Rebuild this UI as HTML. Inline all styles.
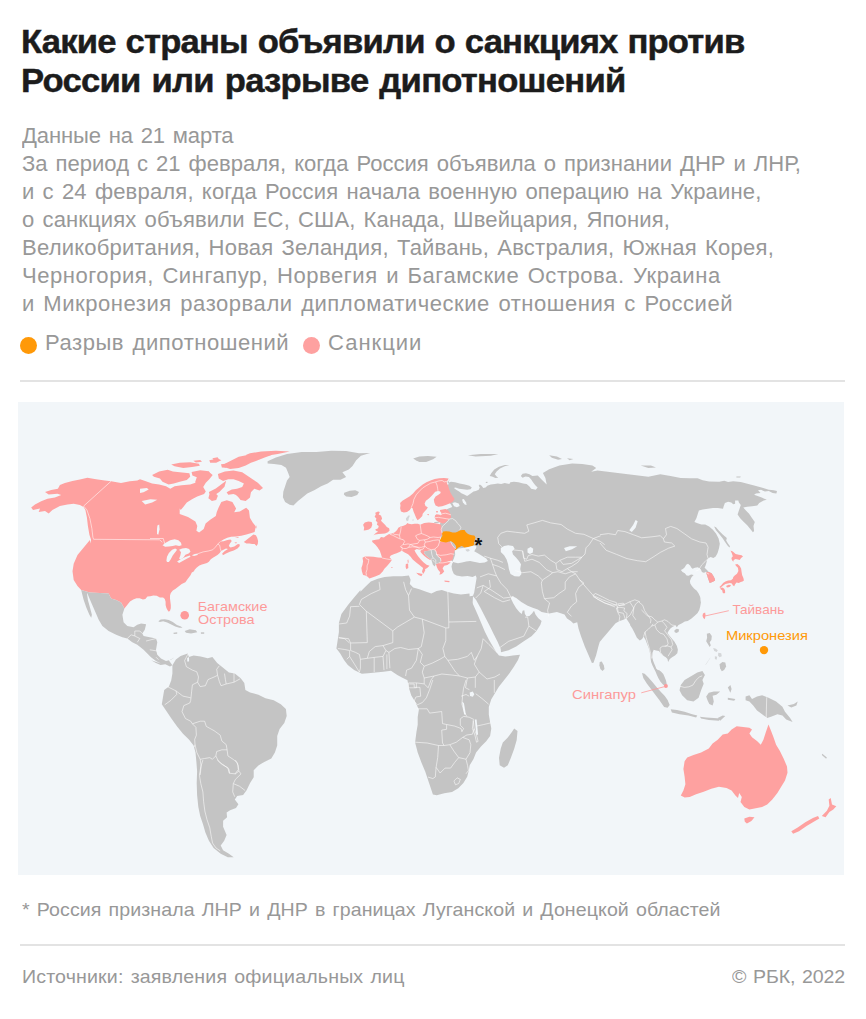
<!DOCTYPE html>
<html lang="ru">
<head>
<meta charset="utf-8">
<title>Какие страны объявили о санкциях против России или разрыве дипотношений</title>
<style>
html,body{margin:0;padding:0;background:#fff;}
body{width:866px;height:1019px;position:relative;overflow:hidden;font-family:"Liberation Sans",sans-serif;}
.t{position:absolute;white-space:nowrap;transform-origin:0 0;line-height:1;}
.dot{position:absolute;width:17px;height:17px;border-radius:50%;}
.rule{position:absolute;left:20px;width:825px;height:1.6px;background:#e3e3e3;}
#map{position:absolute;left:18px;top:402px;width:826px;height:473px;background:#f2f6f9;display:block;}
#map text{font-family:"Liberation Sans",sans-serif;}
</style>
</head>
<body>
<div class="t" style="left:21px;top:25.07px;font-size:33px;letter-spacing:-0.777px;word-spacing:1.0px;color:#1c1c1c;transform:scaleX(1.05);font-weight:bold;-webkit-text-stroke:0.45px #1c1c1c;">Какие страны объявили о санкциях против</div>
<div class="t" style="left:21px;top:63.97px;font-size:33px;letter-spacing:-0.726px;word-spacing:2.0px;color:#1c1c1c;transform:scaleX(1.05);font-weight:bold;-webkit-text-stroke:0.45px #1c1c1c;">России или разрыве дипотношений</div>
<div class="t" style="left:22px;top:125.68px;font-size:21.4px;letter-spacing:-0.120px;word-spacing:1.8px;color:#989898;transform:scaleX(1.03);">Данные на 21 марта</div>
<div class="t" style="left:22px;top:153.68px;font-size:21.4px;letter-spacing:0.012px;word-spacing:1.8px;color:#989898;transform:scaleX(1.03);">За период с 21 февраля, когда Россия объявила о признании ДНР и ЛНР,</div>
<div class="t" style="left:22px;top:181.68px;font-size:21.4px;letter-spacing:0.158px;word-spacing:1.8px;color:#989898;transform:scaleX(1.03);">и с 24 февраля, когда Россия начала военную операцию на Украине,</div>
<div class="t" style="left:22px;top:209.68px;font-size:21.4px;letter-spacing:0.128px;word-spacing:1.8px;color:#989898;transform:scaleX(1.03);">о санкциях объявили ЕС, США, Канада, Швейцария, Япония,</div>
<div class="t" style="left:22px;top:237.68px;font-size:21.4px;letter-spacing:0.200px;word-spacing:1.8px;color:#989898;transform:scaleX(1.03);">Великобритания, Новая Зеландия, Тайвань, Австралия, Южная Корея,</div>
<div class="t" style="left:22px;top:265.68px;font-size:21.4px;letter-spacing:0.518px;word-spacing:1.8px;color:#989898;transform:scaleX(1.03);">Черногория, Сингапур, Норвегия и Багамские Острова. Украина</div>
<div class="t" style="left:22px;top:293.68px;font-size:21.4px;letter-spacing:0.520px;word-spacing:1.8px;color:#989898;transform:scaleX(1.03);">и Микронезия разорвали дипломатические отношения с Россией</div>
<div class="t" style="left:45px;top:332.98px;font-size:21.4px;letter-spacing:0.524px;word-spacing:1.8px;color:#989898;transform:scaleX(1.03);">Разрыв дипотношений</div>
<div class="t" style="left:328.3px;top:332.98px;font-size:21.4px;letter-spacing:0.963px;word-spacing:1.8px;color:#989898;transform:scaleX(1.03);">Санкции</div>
<div class="t" style="left:22px;top:899.72px;font-size:19px;letter-spacing:0.085px;word-spacing:1.5px;color:#989898;transform:scaleX(1.03);">* Россия признала ЛНР и ДНР в границах Луганской и Донецкой областей</div>
<div class="t" style="left:22px;top:966.82px;font-size:19px;letter-spacing:0.157px;word-spacing:1.5px;color:#989898;transform:scaleX(1.03);">Источники: заявления официальных лиц</div>
<div class="t" style="left:731.5px;top:966.82px;font-size:19px;letter-spacing:-0.147px;word-spacing:1.5px;color:#989898;transform:scaleX(1.03);">© РБК, 2022</div>
<div class="dot" style="left:19.7px;top:336.5px;background:#ff9908"></div>
<div class="dot" style="left:303px;top:336.5px;background:#fea1a0"></div>
<div class="rule" style="top:380.2px"></div>
<div class="rule" style="top:944px"></div>
<svg id="map" viewBox="18 402 826 473" width="826" height="473">
<polygon fill="#c4c4c4" points="447.0,489.6 449.6,478.9 447.5,482.9 451.0,481.7 455.0,482.3 459.6,483.5 464.8,484.6 469.4,485.8 471.8,487.5 470.6,489.2 467.1,489.8 463.1,489.2 459.1,488.7 455.6,487.5 453.9,488.1 456.2,489.8 459.1,491.6 461.4,493.3 464.2,494.4 467.1,495.9 468.3,495.3 470.0,493.9 471.8,492.7 473.5,491.6 475.8,491.0 478.7,489.8 479.8,487.5 478.7,485.8 479.8,484.6 481.6,485.8 483.3,488.1 485.6,487.5 487.3,485.8 490.8,484.6 494.8,484.1 497.7,483.5 501.2,484.1 504.7,482.9 509.3,484.1 510.4,482.3 513.9,481.7 518.5,482.3 523.1,483.5 526.6,484.1 529.5,486.4 531.2,488.7 535.8,489.8 537.6,487.5 535.3,485.2 533.0,482.3 531.2,479.4 528.9,477.1 525.5,476.5 522.6,477.7 520.8,476.0 522.6,473.7 526.0,473.3 529.5,474.2 532.4,476.0 537.8,475.6 541.6,479.4 546.7,484.5 545.4,478.1 542.9,473.0 549.2,469.2 559.4,465.4 572.1,463.4 582.3,464.1 592.4,465.4 596.2,467.9 591.2,471.8 597.5,470.5 607.7,471.8 617.8,473.0 628.0,474.3 638.2,475.6 648.3,476.8 660.3,474.3 670.5,476.1 680.7,478.1 690.0,478.3 697.6,478.3 702.7,480.2 709.1,481.4 719.2,481.7 724.3,480.8 728.1,482.1 733.2,481.2 740.8,482.1 748.4,484.0 756.0,485.9 762.4,487.8 768.8,489.7 773.8,490.3 777.0,491.0 776.4,493.5 772.6,492.9 768.8,491.0 764.9,491.6 761.1,489.7 758.0,490.3 760.5,492.9 756.0,493.5 754.1,494.8 761.1,497.3 766.8,499.8 763.7,500.5 759.2,503.0 757.3,505.6 752.2,506.2 747.2,506.8 743.3,507.5 745.9,510.6 749.1,513.8 751.6,517.6 754.8,522.1 753.5,525.9 754.1,531.0 752.9,532.2 750.3,529.1 747.2,525.3 743.3,521.4 740.2,518.3 737.6,514.5 738.9,510.6 740.2,506.8 740.8,504.9 738.9,502.4 738.3,500.5 735.1,500.5 735.1,503.7 733.2,504.3 731.3,502.4 728.1,501.8 724.9,503.0 723.7,506.2 723.0,508.7 717.9,508.1 712.9,508.1 707.8,508.7 702.7,509.4 698.9,510.6 697.6,514.5 696.4,518.3 694.4,522.1 697.6,523.3 701.4,524.6 705.2,524.6 709.1,526.5 712.9,529.7 716.0,533.5 718.6,538.6 719.8,543.7 719.0,548.3 717.6,552.9 715.7,556.6 713.4,558.0 710.6,557.1 708.8,558.0 707.0,559.9 706.5,562.6 705.6,565.4 704.6,567.7 706.5,569.6 707.9,570.9 708.8,571.9 711.6,573.3 713.4,576.0 714.8,578.8 715.1,580.6 713.4,581.6 711.1,582.5 709.7,583.0 708.8,580.6 707.9,577.9 707.0,575.1 706.2,573.3 705.6,572.3 703.7,572.8 701.9,571.9 700.9,569.6 699.6,568.2 697.7,567.3 694.9,567.7 692.6,568.8 691.4,567.7 690.1,565.4 688.0,563.8 686.2,564.8 684.8,567.3 682.9,569.1 680.9,570.0 682.5,571.9 684.8,573.3 686.6,575.6 688.5,575.8 691.1,574.6 693.6,574.9 691.7,577.0 690.8,578.8 689.9,581.1 690.3,583.4 691.7,585.7 694.0,588.5 696.8,590.8 698.6,593.6 700.0,596.4 700.9,600.0 700.2,598.3 700.9,602.5 700.2,606.6 699.3,610.0 697.6,612.9 694.7,615.8 691.2,618.7 687.7,621.0 684.8,621.5 682.0,623.3 678.5,625.0 676.8,627.3 675.6,625.6 672.7,626.7 670.4,628.5 668.7,630.8 667.5,633.1 669.3,635.4 671.6,638.3 674.5,641.8 676.8,645.8 677.9,649.8 677.3,653.3 675.0,655.6 672.1,657.3 669.8,659.1 668.1,662.0 667.5,659.1 665.8,657.3 662.9,655.6 660.6,653.3 658.9,651.0 656.0,650.4 653.7,649.8 652.5,652.7 652.2,657.3 653.1,660.8 654.5,664.3 656.0,667.7 657.1,669.5 658.9,670.0 661.2,671.8 663.3,674.1 664.6,677.0 666.0,680.4 666.7,683.9 665.6,686.4 662.9,684.5 660.3,681.6 658.3,678.1 656.8,674.7 655.6,671.8 654.2,668.9 652.5,665.4 651.1,662.0 650.6,658.5 650.2,653.9 649.1,649.3 647.3,644.6 645.6,640.0 643.6,636.6 642.1,638.9 639.8,640.6 636.9,637.7 634.6,633.1 632.3,628.5 630.0,625.0 630.2,624.6 628.1,621.2 626.3,618.4 623.3,619.8 619.1,621.2 615.6,623.3 611.5,628.1 607.3,633.0 603.2,637.8 599.7,642.0 598.3,646.8 596.2,655.1 593.5,662.7 591.9,662.9 588.6,655.3 584.8,646.4 581.0,636.2 578.5,628.6 577.2,622.2 573.4,623.5 570.8,621.0 567.0,618.4 564.5,614.6 556.9,612.1 549.2,613.4 541.6,612.1 537.8,609.5 532.7,607.8 527.7,605.7 521.3,601.9 516.2,598.1 512.4,596.3 510.9,598.6 513.2,603.2 516.2,608.3 519.3,612.1 521.8,613.9 522.6,610.8 524.3,610.3 524.9,613.9 526.6,616.4 529.4,615.9 532.0,613.4 534.0,610.8 535.5,614.6 538.1,617.9 541.6,621.0 540.4,624.8 536.5,631.1 531.5,636.2 523.8,641.3 516.2,646.4 508.6,650.2 501.0,652.2 500.7,648.9 497.7,642.1 493.9,634.4 489.5,625.5 485.0,616.7 480.4,607.8 476.1,600.1 473.0,596.3 472.5,605.4 470.1,600.5 468.5,596.5 473.0,595.7 474.2,592.4 475.0,587.6 475.8,582.7 476.6,577.9 475.8,575.5 472.5,577.1 467.7,576.0 462.0,576.6 456.4,575.5 453.9,573.9 452.3,570.6 451.5,566.6 452.3,563.3 453.1,562.1 451.5,560.4 447.5,558.5 447.5,550.4 436.6,529.5 441.8,520.8 444.4,512.2 447.3,509.0 452.2,507.0 451.3,504.9 448.7,501.8"/>
<polygon fill="#c4c4c4" points="360.4,591.8 365.6,586.6 370.8,581.4 377.7,578.8 384.6,577.1 393.3,576.2 402.0,576.2 408.9,575.4 410.6,579.7 409.8,584.0 413.2,587.5 419.3,589.2 426.2,591.8 431.4,593.6 436.6,591.0 441.8,590.1 447.0,591.8 453.9,593.6 460.9,594.4 469.5,593.6 469.7,597.6 473.5,605.2 477.4,614.1 481.2,623.0 485.0,631.9 488.8,639.5 492.6,645.9 496.4,652.2 499.0,655.5 505.3,656.6 512.9,655.5 520.0,654.8 518.0,659.9 514.2,666.2 509.1,673.8 504.0,680.2 499.0,686.5 495.1,692.9 491.3,699.2 488.8,706.9 488.8,714.5 490.1,722.1 491.3,728.5 490.1,736.1 486.2,741.2 481.2,746.2 476.1,752.6 473.5,759.0 469.7,765.3 468.5,771.7 467.2,776.7 463.4,783.1 458.3,788.2 452.0,792.0 444.3,793.3 436.7,795.3 432.9,794.5 430.4,786.9 427.8,779.3 425.3,771.7 421.5,762.8 417.7,752.6 415.1,742.4 416.4,732.3 417.7,724.7 417.7,717.0 418.9,709.4 415.1,701.8 411.3,695.4 408.8,687.8 407.5,680.2 402.4,677.7 397.3,675.1 391.0,670.8 383.4,671.8 375.7,672.6 368.1,673.3 361.8,673.8 354.1,670.0 347.8,664.9 344.0,659.9 340.2,653.5 336.4,648.4 337.6,640.8 338.9,631.9 338.9,623.0 341.4,614.1 347.8,605.2 354.1,597.6 360.5,590.0"/>
<polygon fill="#fea1a0" points="111.1,481.2 121.0,482.9 129.8,481.2 137.3,480.5 140.0,479.2 145.2,481.0 152.1,483.6 159.1,484.4 166.0,486.2 170.3,488.8 174.6,486.2 181.6,485.3 190.2,484.4 195.4,482.7 199.8,479.2 197.2,476.7 197.2,474.1 204.1,471.5 209.3,472.3 212.7,474.9 209.3,479.2 205.8,482.7 203.2,487.0 205.8,491.4 204.1,494.0 197.2,496.6 192.0,499.2 186.8,502.6 183.3,507.0 180.7,510.1 179.7,508.6 179.7,514.1 188.0,516.9 195.4,521.5 197.3,526.1 196.4,530.8 199.1,532.6 203.7,528.9 205.6,523.4 210.2,519.7 215.8,516.0 216.7,512.3 218.5,507.7 221.3,502.1 226.8,500.3 232.4,502.1 236.1,508.6 234.2,512.3 239.8,511.4 246.2,507.7 249.0,510.4 249.9,517.8 252.7,522.4 255.5,526.1 256.4,528.9 256.5,525.0 255.3,528.8 254.6,532.0 251.5,532.9 246.4,534.5 241.3,535.8 236.2,536.4 231.1,536.7 227.3,537.7 223.5,539.6 220.3,541.5 223.5,541.3 227.3,539.9 230.5,539.4 231.8,540.9 229.9,543.4 228.8,546.0 230.5,547.6 234.3,546.6 237.5,544.3 239.4,544.1 239.8,546.0 237.5,548.5 233.7,550.4 229.9,551.7 226.0,553.6 222.9,555.2 222.2,553.6 224.8,551.0 228.0,549.1 226.0,548.5 223.5,549.8 221.0,551.0 219.7,552.9 217.8,554.8 215.9,556.1 213.3,557.4 210.8,559.3 208.9,561.8 207.0,563.1 204.5,563.7 201.9,564.4 199.4,565.6 196.8,567.6 194.9,569.5 193.7,571.4 191.8,572.6 190.5,575.2 189.2,577.1 187.3,579.6 185.4,582.2 181.7,584.0 178.5,586.5 175.3,588.9 172.8,590.5 170.8,592.9 170.0,595.4 170.0,598.6 170.4,601.8 170.8,605.1 170.8,608.3 170.0,610.7 168.8,611.7 167.6,610.3 166.4,607.9 165.6,605.1 165.6,601.8 164.8,599.0 163.1,597.4 159.9,597.4 156.7,595.8 153.4,595.4 150.2,596.2 147.4,596.6 145.4,599.0 142.9,599.4 139.7,598.2 136.5,598.2 133.2,599.4 130.0,601.4 124.4,608.6 121.1,602.4 116.1,599.9 111.1,598.6 108.6,593.6 99.9,592.9 89.9,592.4 81.2,589.9 77.5,586.1 73.7,579.9 72.5,571.2 73.7,563.7 77.5,555.0 83.7,547.5 89.9,540.0 90.4,543.6 91.1,539.8 89.4,534.8 87.9,526.1 86.9,517.4 85.4,509.9 83.6,506.9 79.9,504.9 73.7,503.7 67.4,504.4 59.9,506.1 52.4,509.9 48.7,513.6 45.0,511.1 38.7,511.9 40.0,508.6 33.0,509.9 31.2,507.4 35.0,504.4 41.2,501.2 47.5,498.7 54.9,497.4 61.2,494.9 57.4,493.7 48.7,494.4 45.0,491.9 51.2,489.9 57.9,488.7 59.9,484.9 64.9,482.9 72.4,481.0 79.9,479.5 87.4,477.7 96.1,479.2 104.8,480.5"/>
<polygon fill="#fea1a0" points="152.1,474.9 159.1,471.5 167.7,469.7 172.9,471.5 179.8,472.3 189.4,473.2 190.2,476.7 186.8,480.1 179.8,481.8 173.8,483.6 168.6,484.4 162.5,481.8 159.9,478.4 153.9,476.7"/>
<polygon fill="#fea1a0" points="171.2,464.5 179.8,462.8 190.2,462.3 198.9,463.7 199.8,465.7 192.0,467.1 183.3,468.0 174.6,466.3"/>
<polygon fill="#fea1a0" points="209.3,460.2 217.9,458.5 221.4,460.2 216.2,462.8 210.2,462.8"/>
<polygon fill="#fea1a0" points="224.9,463.7 231.8,460.2 238.7,456.7 247.4,455.0 271.6,455.0 264.7,457.6 257.8,460.2 250.9,462.8 245.7,465.4 238.7,468.0 230.1,468.9 224.0,467.1"/>
<polygon fill="#fea1a0" points="217.9,474.1 224.9,471.5 233.5,470.6 242.2,472.3 247.4,475.8 252.6,479.2 257.8,482.7 263.0,487.9 259.5,490.5 254.3,488.8 250.9,492.2 250.0,497.4 245.7,500.9 240.5,500.0 237.9,495.7 233.5,494.0 228.3,494.8 226.6,492.2 231.8,489.6 237.0,488.8 242.2,487.0 243.9,483.6 238.7,481.0 233.5,479.2 228.3,479.2 223.1,481.0 218.8,478.4"/>
<polygon fill="#fea1a0" points="209.3,494.8 214.5,492.2 217.9,495.7 216.2,500.0 211.9,500.9 208.4,498.3"/>
<polygon fill="#fea1a0" points="243.8,542.1 247.0,539.6 250.2,537.1 253.4,534.5 255.9,535.2 257.2,537.7 258.1,540.9 257.8,544.1 256.5,546.0 254.6,544.1 252.1,544.1 249.5,543.4 246.4,543.4"/>
<polygon fill="#fea1a0" points="234.3,542.8 236.8,542.1 236.2,543.4"/>
<polygon fill="#fea1a0" points="234.9,537.7 238.8,537.1 238.1,538.1"/>
<polygon fill="#f2f6f9" points="140.0,488.8 146.9,487.9 148.7,489.6 143.5,492.2 140.0,493.1"/>
<polygon fill="#f2f6f9" points="141.7,500.9 150.4,499.2 157.3,499.7 152.1,502.6 145.2,504.4"/>
<polygon fill="#f2f6f9" points="157.4,525.5 159.2,524.6 159.6,529.2 158.3,534.8 157.0,533.9 157.0,529.2"/>
<polygon fill="#f2f6f9" points="162.5,545.3 165.7,542.8 170.2,540.2 174.6,539.2 178.4,540.2 181.0,542.8 181.6,545.3 179.1,546.0 175.9,545.3 172.7,546.0 168.9,546.6 165.1,546.8"/>
<polygon fill="#f2f6f9" points="166.4,560.6 167.0,556.8 168.9,552.9 172.1,549.8 175.2,548.5 177.1,549.8 175.2,552.3 172.7,555.5 170.8,559.3 168.9,562.1 167.0,562.1"/>
<polygon fill="#f2f6f9" points="179.1,549.8 182.2,548.5 186.0,547.9 189.2,549.1 190.5,551.7 188.6,553.6 185.4,554.8 183.5,557.4 181.0,559.3 179.1,558.7 180.3,555.5 181.0,552.3"/>
<polygon fill="#f2f6f9" points="177.1,561.6 181.0,559.0 185.4,557.0 189.8,555.5 190.5,556.8 186.7,558.7 182.2,561.2 179.1,562.9"/>
<polygon fill="#f2f6f9" points="191.8,555.2 194.9,554.0 198.1,553.6 197.5,555.0 194.0,556.1"/>
<polygon fill="#c4c4c4" points="267.6,461.2 275.9,457.6 287.0,453.9 301.7,452.0 316.5,452.0 331.3,450.7 346.1,451.1 359.0,453.3 370.1,452.9 360.9,455.7 356.2,460.3 352.5,465.9 348.8,469.6 342.4,472.3 346.1,477.0 340.5,479.7 333.1,479.7 327.6,483.4 321.1,486.2 314.7,489.9 307.3,493.6 302.7,497.3 298.0,501.0 293.4,505.6 289.7,504.7 285.1,501.9 282.9,497.3 283.3,491.7 285.1,486.2 287.0,480.6 289.7,477.0 287.9,472.3 286.0,467.7 281.4,464.9 274.0,464.0 267.6,463.6"/>
<polygon fill="#c4c4c4" points="344.2,492.7 349.8,490.8 355.3,490.3 359.0,492.1 357.2,495.1 351.6,496.9 346.1,496.4 343.9,494.5"/>
<polygon fill="#fea1a0" points="246.3,454.8 250.0,453.3 261.1,451.5 275.9,450.7 289.7,451.5 277.7,453.9 266.6,455.7 257.4,458.5 250.0,460.3 246.3,460.7"/>
<polygon fill="#c4c4c4" points="413.2,458.5 419.3,456.4 427.9,455.9 436.6,456.7 433.1,459.3 426.2,461.9 419.3,461.9 415.8,460.2"/>
<polygon fill="#fea1a0" points="400.1,503.1 402.4,500.8 406.1,498.5 409.8,496.2 413.0,493.4 415.8,490.2 419.0,487.4 422.7,484.6 426.4,482.3 430.6,480.5 434.7,479.1 439.3,478.2 444.0,477.9 448.6,478.6 447.7,480.5 446.7,482.8 448.1,485.6 449.0,488.8 450.4,492.5 452.3,495.7 454.6,499.0 452.7,501.7 449.5,503.6 445.8,505.0 442.1,506.3 438.4,506.8 435.6,505.4 434.3,502.6 433.8,499.4 435.6,496.6 438.4,494.8 440.7,492.9 440.3,491.4 438.0,491.1 435.2,491.7 433.3,493.9 431.0,496.6 428.3,499.0 425.9,500.8 424.6,503.6 425.5,505.9 427.8,507.3 426.9,509.1 424.6,511.4 422.7,513.7 422.3,516.0 419.9,518.4 417.6,520.2 416.2,517.9 414.9,514.7 413.5,511.4 412.6,508.2 411.2,507.7 409.8,510.0 407.0,511.9 403.8,512.6 401.0,511.4 400.1,508.2 400.5,505.4"/>
<polygon fill="#fea1a0" points="427.4,513.9 428.8,513.9 428.8,515.3 427.6,515.1"/>
<polygon fill="#fea1a0" points="436.1,511.1 437.8,511.1 437.8,512.5 436.3,512.5"/>
<polygon fill="#fea1a0" points="439.9,510.1 442.7,509.4 445.4,509.1 447.5,509.7 448.5,510.8 450.0,512.9 451.0,514.9 451.0,517.7 448.9,519.1 446.8,521.2 444.7,522.9 442.7,523.6 439.9,522.6 437.8,521.5 435.7,519.8 434.7,517.7 435.0,515.6 436.4,514.2 438.5,514.6 440.6,515.1 441.6,513.2 440.2,511.6"/>
<polygon fill="#fea1a0" points="375.2,512.7 378.1,511.5 379.8,512.1 378.7,514.4 381.0,515.6 382.1,518.5 381.0,520.8 382.7,522.5 385.0,524.8 386.8,527.1 389.1,528.3 389.6,530.6 387.9,532.3 385.0,533.5 382.1,533.7 378.7,534.1 375.2,534.6 373.5,535.2 375.8,532.9 378.1,531.8 375.8,530.6 375.2,529.4 378.1,528.3 378.7,526.0 376.9,524.8 377.5,522.5 375.8,520.8 376.4,518.5 374.6,516.7 375.8,514.4"/>
<polygon fill="#fea1a0" points="363.1,524.8 364.8,522.5 368.3,521.4 371.7,521.9 372.3,524.8 371.2,527.7 368.9,529.4 366.0,530.3 363.7,530.6 364.2,527.7"/>
<polygon fill="#fea1a0" points="362.5,557.7 364.8,556.4 368.9,556.4 373.5,556.8 378.1,557.4 382.1,557.7 381.0,554.3 379.8,550.8 377.5,547.3 375.2,544.5 372.3,542.1 372.1,540.6 375.8,539.8 379.2,539.3 381.0,537.0 383.9,537.5 386.2,535.8 389.1,534.1 392.0,533.5 394.8,532.3 397.1,530.0 398.3,527.7 400.6,526.6 402.9,526.0 405.8,524.8 407.5,523.1 408.7,523.7 411.6,524.2 414.5,523.7 417.9,523.7 420.2,524.8 424.3,523.1 428.9,522.5 433.5,523.1 438.1,523.7 441.0,524.8 441.6,528.9 442.2,533.5 440.5,537.0 439.3,541.0 441.6,542.1 444.2,542.0 449.1,542.3 453.1,542.8 454.8,545.2 455.9,548.0 454.8,550.4 453.9,553.6 453.1,556.9 452.3,560.1 449.9,561.4 446.7,561.7 448.3,562.1 450.7,562.5 447.5,565.0 444.2,565.8 442.6,568.2 444.2,571.4 441.8,573.9 439.4,574.7 440.2,572.2 438.1,569.8 437.0,567.4 436.2,565.0 435.8,564.1 438.7,562.9 441.0,561.2 440.5,558.3 438.1,556.6 436.4,554.3 435.8,551.4 433.5,549.7 431.2,550.2 428.3,550.8 424.3,551.4 424.1,553.1 426.0,555.4 428.9,557.7 431.2,559.5 430.1,560.0 427.2,558.3 424.3,556.0 422.0,553.7 420.2,551.4 421.4,550.8 419.7,549.7 416.8,549.1 414.5,550.2 415.6,552.5 417.9,556.0 420.8,559.5 423.7,562.4 426.6,564.7 429.5,565.8 427.2,568.1 424.9,569.3 425.4,569.9 424.3,572.2 423.1,573.9 422.0,571.6 423.1,568.1 419.7,565.2 416.2,562.4 412.7,559.5 410.4,556.6 408.1,554.3 404.7,552.5 401.8,550.8 399.5,552.0 396.6,553.3 393.7,554.3 390.8,555.4 389.6,557.2 392.0,560.0 389.6,562.9 387.3,565.8 384.4,568.7 382.7,571.6 379.8,574.5 375.8,576.2 372.3,577.4 369.4,578.5 367.7,576.8 365.4,575.6 363.1,575.1 361.9,571.6 361.4,568.1 362.5,564.7 363.1,561.2"/>
<polygon fill="#fea1a0" points="416.2,572.7 419.1,573.3 422.6,573.9 421.4,576.2 418.5,575.1"/>
<polygon fill="#fea1a0" points="405.8,564.1 408.1,563.5 408.3,568.1 406.4,569.3 405.6,567.0"/>
<polygon fill="#fea1a0" points="407.5,560.0 408.3,559.5 408.7,562.4 407.8,562.9"/>
<polygon fill="#fea1a0" points="391.1,567.1 392.6,567.3 392.5,568.0 391.3,567.8"/>
<polygon fill="#fea1a0" points="444.4,580.6 449.6,581.1 449.2,582.3 444.7,581.8"/>
<polygon fill="#d4d6d8" points="405.9,518.4 407.3,516.7 409.1,514.9 409.7,516.3 408.7,518.4 408.4,520.5 407.0,521.2 406.1,520.1"/>
<polygon fill="#d4d6d8" points="412.2,519.8 413.9,519.4 413.6,520.5 412.3,520.5"/>
<polygon fill="#c4c4c4" points="434.3,522.0 438.5,521.7 439.5,522.6 437.1,523.1 434.3,522.9"/>
<polygon fill="#ff9908" points="439.6,540.9 440.8,538.4 442.4,536.0 442.0,533.2 443.2,531.6 446.0,531.2 449.3,531.6 452.5,532.4 455.7,532.4 458.1,531.6 459.4,530.4 462.2,530.0 464.6,530.0 465.4,531.6 467.0,533.2 469.1,534.4 471.9,535.2 474.3,535.6 475.5,537.6 474.7,540.1 473.9,542.5 474.3,544.9 472.3,546.1 469.5,546.9 466.6,547.3 464.6,547.7 463.0,546.5 461.4,546.1 459.8,546.9 458.1,547.7 456.9,549.0 455.7,550.6 454.9,549.8 456.1,547.7 455.7,546.1 454.5,544.1 452.9,542.5 450.9,541.3 448.4,541.7 446.0,542.5 443.2,542.1 441.2,541.7"/>
<polygon fill="#c4c4c4" points="514.2,728.5 517.5,731.0 516.7,739.9 514.2,748.8 510.9,757.7 507.8,765.3 504.0,767.8 499.7,765.3 499.0,757.7 500.7,748.8 502.8,742.4 507.8,737.4 511.7,732.3"/>
<polygon fill="#f2f6f9" points="469.7,692.4 472.8,691.6 474.3,694.2 472.8,696.7 470.0,695.9"/>
<polygon fill="#f2f6f9" points="462.1,701.8 463.9,703.1 465.9,714.5 464.1,714.5"/>
<polygon fill="#f2f6f9" points="474.8,719.6 476.6,719.6 478.1,734.8 476.3,734.8"/>
<polygon fill="#f2f6f9" points="454.8,550.4 458.8,548.5 462.8,548.0 466.1,547.5 470.1,546.4 474.2,545.6 476.6,546.4 475.8,548.8 474.2,551.2 478.2,553.6 482.2,556.1 486.3,558.5 487.9,560.9 484.7,562.5 479.8,563.0 475.0,562.1 470.1,560.9 466.1,561.4 462.0,562.5 458.0,563.3 454.8,562.5 452.3,561.7 453.9,558.5 455.2,554.5"/>
<polygon fill="#d4d6d8" points="465.4,549.4 468.7,549.0 469.9,550.6 467.8,551.8 466.2,551.0"/>
<polygon fill="#f2f6f9" points="500.8,548.0 504.1,545.9 508.1,545.2 513.0,545.9 514.6,548.8 512.1,551.2 513.0,554.5 516.2,557.7 518.9,560.9 521.0,564.2 520.2,569.0 521.5,573.9 519.4,576.6 514.6,576.3 510.5,573.9 508.9,569.0 508.1,564.2 506.5,559.3 504.1,555.3 500.8,552.0"/>
<polygon fill="#f2f6f9" points="527.5,548.8 530.7,546.9 533.2,548.8 532.8,552.4 529.9,554.0 527.5,552.4"/>
<polygon fill="#f2f6f9" points="564.0,548.0 569.6,546.2 577.2,546.2 572.1,549.2 565.8,551.3"/>
<polygon fill="#f2f6f9" points="629.3,530.2 633.1,525.1 635.6,520.0 637.7,521.3 635.6,527.7 631.8,532.0"/>
<polygon fill="#c4c4c4" points="489.7,476.0 491.4,473.1 494.3,469.6 498.9,466.7 504.7,465.0 509.3,465.0 504.7,466.2 500.0,468.5 496.6,471.4 494.8,474.2 496.6,476.5 498.3,477.7 495.4,477.9 492.0,476.5"/>
<polygon fill="#c4c4c4" points="485.6,482.1 487.3,481.7 487.6,482.9 486.0,483.1"/>
<polygon fill="#c4c4c4" points="549.2,455.2 556.9,456.5 562.0,459.1 558.1,459.8 551.8,457.8"/>
<polygon fill="#c4c4c4" points="567.0,458.3 573.4,459.1 569.6,460.3"/>
<polygon fill="#c4c4c4" points="640.7,465.4 650.9,465.4 656.0,467.4 648.3,467.9"/>
<polygon fill="#c4c4c4" points="467.9,455.2 480.7,454.0 498.4,454.0 490.8,455.8 475.6,456.5"/>
<polygon fill="#c4c4c4" points="714.1,526.5 716.0,527.2 719.2,531.0 723.0,534.8 726.8,538.0 726.2,540.5 728.1,543.7 730.0,546.2 729.4,547.5 727.5,545.6 724.9,541.8 722.4,538.0 719.2,534.1 716.0,530.3"/>
<polygon fill="#c4c4c4" points="736.4,476.4 740.8,476.4 740.2,477.6 736.4,477.4"/>
<polygon fill="#fea1a0" points="706.0,572.3 708.8,571.9 711.6,573.3 713.4,576.0 714.8,578.8 715.1,580.6 713.4,581.6 711.1,582.5 709.7,583.0 708.8,580.6 707.9,577.9 707.0,575.1 706.2,573.3"/>
<polygon fill="#fea1a0" points="730.5,550.6 732.8,551.5 735.6,553.9 738.8,554.8 741.6,555.2 743.0,556.6 741.1,558.0 739.7,559.9 737.9,559.4 735.6,558.9 733.7,559.9 733.3,561.7 731.9,559.9 731.4,558.0 732.8,556.2 731.9,553.4"/>
<polygon fill="#fea1a0" points="735.1,564.5 737.4,564.0 739.7,565.9 741.1,568.6 741.6,571.9 742.1,575.1 743.4,577.9 743.9,580.6 742.5,581.6 740.7,582.0 738.8,583.0 736.5,582.5 735.1,584.3 734.2,586.2 732.8,585.3 731.9,583.4 730.0,583.0 727.7,583.4 725.4,583.9 723.6,585.3 721.7,586.7 720.3,588.0 719.4,587.1 721.3,585.3 723.1,583.0 725.4,581.6 728.2,580.6 731.0,580.2 732.8,578.8 733.3,577.0 734.7,575.6 737.0,573.7 738.4,570.9 737.9,567.7 736.1,565.9"/>
<polygon fill="#fea1a0" points="726.4,585.7 728.7,584.8 731.0,585.1 730.0,586.7 727.7,587.6 726.4,586.9"/>
<polygon fill="#fea1a0" points="720.3,588.0 722.2,587.6 724.0,588.5 725.0,590.3 725.2,592.7 724.0,593.6 722.7,592.7 722.2,590.3 720.8,589.4"/>
<polygon fill="#fea1a0" points="703.0,613.5 705.1,612.5 705.6,615.2 704.8,619.2 703.3,618.1 702.5,615.8"/>
<polygon fill="#c4c4c4" points="674.5,630.2 676.8,628.7 679.1,629.6 678.5,631.9 676.2,632.9 674.5,631.9"/>
<polygon fill="#c4c4c4" points="599.7,662.1 601.8,661.4 603.9,665.5 604.5,669.0 602.5,671.1 600.4,669.0 599.4,665.5"/>
<polygon fill="#c4c4c4" points="642.0,673.1 644.7,673.8 648.2,677.3 652.4,682.1 656.5,687.0 660.7,691.8 664.8,696.0 667.6,700.0 669.7,705.0 667.6,707.8 664.1,707.1 659.3,700.0 655.1,694.6 651.0,689.1 646.8,683.5 643.3,678.0"/>
<polygon fill="#c4c4c4" points="680.8,685.1 684.6,680.0 691.0,676.2 697.3,672.4 702.4,671.1 704.9,674.9 702.4,680.0 703.7,683.8 701.1,690.2 698.6,697.8 693.5,701.6 687.2,700.3 682.1,695.2 679.5,690.2"/>
<polygon fill="#c4c4c4" points="706.2,696.5 708.8,692.7 713.8,691.4 720.2,691.4 716.4,694.7 712.6,695.8 713.8,701.6 712.6,705.4 709.3,704.1 707.5,700.3"/>
<polygon fill="#c4c4c4" points="727.8,687.6 730.4,685.1 731.6,688.9 730.4,692.7"/>
<polygon fill="#c4c4c4" points="727.8,697.8 735.4,699.1 734.2,700.8 727.8,699.8"/>
<polygon fill="#c4c4c4" points="670.7,709.2 677.0,710.0 684.6,711.8 692.2,714.3 697.3,715.6 696.1,717.6 688.4,715.6 679.5,714.3 671.9,712.5"/>
<polygon fill="#c4c4c4" points="699.9,716.8 706.2,717.6 713.8,718.1 720.2,718.6 718.9,720.7 708.8,720.1 701.1,718.6"/>
<polygon fill="#c4c4c4" points="717.7,718.1 722.7,715.6 725.3,716.1 720.2,720.7"/>
<polygon fill="#c4c4c4" points="745.6,696.5 749.4,695.2 752.0,699.1 757.0,696.5 762.1,695.2 768.5,697.8 776.1,701.6 782.4,706.7 785.0,711.8 790.1,718.1 792.6,721.9 786.2,719.4 782.4,715.6 777.4,714.3 771.0,716.8 767.2,718.1 762.1,714.3 757.0,710.5 753.2,705.4 749.4,701.6 745.6,700.3"/>
<polygon fill="#c4c4c4" points="787.5,705.4 793.9,704.1 797.7,701.6 796.4,705.4 791.3,707.4"/>
<polygon fill="#c4c4c4" points="822.3,753.7 826.9,757.5 826.1,758.8 821.8,754.9"/>
<polygon fill="#c4c4c4" points="706.8,633.7 709.7,633.1 711.8,636.0 711.4,640.0 709.7,642.3 710.8,645.2 709.7,647.0 707.9,644.1 706.2,641.2 707.1,637.7"/>
<polygon fill="#c4c4c4" points="719.5,664.3 722.4,662.0 725.3,662.5 726.1,666.6 724.1,670.0 721.8,671.2 720.1,668.3"/>
<polygon fill="#d4d6d8" points="713.1,648.1 716.0,648.7 717.8,650.4 716.6,652.1 714.3,651.0"/>
<polygon fill="#d4d6d8" points="718.3,652.7 721.2,653.3 721.8,656.2 719.5,657.3 718.0,655.6"/>
<polygon fill="#d4d6d8" points="714.9,656.2 717.2,656.8 716.6,659.7 714.9,659.1"/>
<polygon fill="#d4d6d8" points="709.7,658.5 710.8,657.3 706.2,664.3 705.1,665.2"/>
<polygon fill="#fea1a0" points="684.6,761.3 687.2,757.5 693.5,754.9 701.1,752.4 708.8,748.6 712.6,743.5 717.7,739.7 722.7,734.6 727.8,733.4 731.6,729.5 736.7,726.2 743.1,727.0 749.4,727.8 752.0,729.5 749.4,733.4 752.0,737.2 757.0,741.0 760.8,744.8 763.4,739.7 765.9,732.1 768.5,724.5 771.0,730.8 773.5,737.2 776.1,744.8 779.9,751.1 783.7,758.8 787.0,766.4 787.5,772.7 785.0,780.4 781.2,786.7 777.4,793.1 772.3,799.4 767.2,804.5 762.1,807.0 755.8,808.3 749.4,809.6 744.3,807.0 740.5,802.0 741.8,796.9 739.2,793.1 738.0,798.1 735.4,795.6 731.6,790.5 726.5,788.0 718.9,786.7 711.3,788.7 703.7,791.8 696.1,794.3 689.7,796.9 684.6,797.4 680.8,795.6 683.4,790.5 685.4,784.2 684.6,776.5 683.4,768.9"/>
<polygon fill="#fea1a0" points="744.3,818.5 749.4,816.7 754.5,817.2 751.4,821.0 746.9,823.5 744.8,821.8"/>
<polygon fill="#fea1a0" points="821.8,815.9 826.9,810.8 829.4,805.8 828.7,799.4 830.7,798.1 832.0,804.5 836.3,806.3 833.3,809.6 829.4,812.1 825.6,817.2"/>
<polygon fill="#fea1a0" points="791.3,831.2 797.7,827.4 805.3,822.3 812.9,818.0 818.0,815.9 819.3,818.5 812.9,822.3 806.6,826.1 799.0,831.2 793.1,833.7"/>
<polygon fill="#c4c4c4" points="172.4,665.3 175.9,659.4 180.6,655.9 187.7,653.6 188.9,657.1 193.6,655.4 200.7,656.4 207.7,658.3 212.4,657.1 217.2,663.0 223.1,667.7 228.9,672.4 234.8,673.6 240.7,678.3 244.3,683.0 245.4,690.1 250.1,692.4 258.4,694.8 265.5,698.3 273.7,700.2 280.8,704.2 285.9,708.9 286.7,716.0 284.3,723.1 279.6,728.9 277.2,736.0 277.2,745.4 274.9,752.5 271.3,758.4 264.3,761.9 258.4,765.5 253.7,770.2 253.7,777.2 250.1,783.1 246.6,790.2 243.1,794.9 237.2,796.1 234.8,799.6 238.4,804.3 236.0,807.9 230.1,810.2 226.6,812.6 227.1,817.3 223.1,820.8 223.1,826.7 226.6,834.9 224.2,840.8 220.7,845.5 223.1,850.3 228.9,853.8 233.7,857.3 227.8,857.3 220.7,853.8 213.6,847.9 208.9,840.8 205.4,832.6 203.0,824.3 200.2,816.1 198.3,806.7 197.1,794.9 196.7,783.1 197.1,771.3 196.4,761.9 195.5,752.5 193.6,745.4 188.9,739.5 183.0,733.7 177.1,726.6 171.2,718.3 166.5,711.3 161.8,704.2 163.0,697.1 164.2,690.1 168.9,686.5 171.2,680.6 172.4,673.6"/>
<polygon fill="#c4c4c4" points="81.2,589.9 89.9,592.4 99.9,592.9 108.6,593.6 111.1,598.6 116.1,599.9 121.1,602.4 124.4,608.6 122.4,614.8 123.6,622.3 127.3,626.1 133.6,627.3 137.3,624.8 141.1,623.6 146.1,624.3 144.8,629.8 142.3,633.5 143.6,636.0 149.8,637.3 156.0,638.5 157.3,642.3 156.0,649.8 157.3,654.7 161.0,658.5 166.0,661.0 171.0,659.7 174.7,657.2 168.9,660.6 172.4,665.3 170.0,666.5 165.3,664.2 160.6,664.9 155.9,663.0 151.2,660.2 161.0,663.5 156.0,661.0 151.0,657.2 147.3,653.5 143.6,649.8 137.3,644.8 132.3,642.3 127.3,638.5 122.4,637.3 116.1,634.8 108.6,631.0 102.4,626.1 98.7,619.8 94.9,611.1 91.2,602.4 87.4,593.6 86.9,592.9 87.9,599.9 89.9,607.3 91.9,614.8 91.2,617.8 89.4,614.8 86.2,607.3 83.7,599.9 82.0,593.6"/>
<polygon fill="#c4c4c4" points="158.3,621.2 160.7,619.6 164.8,619.2 168.8,620.0 172.8,622.0 176.9,624.9 180.9,626.5 182.5,627.7 179.3,627.7 175.3,626.5 171.2,624.5 167.2,622.4 163.1,621.2 159.9,622.0"/>
<polygon fill="#c4c4c4" points="184.7,631.0 189.7,629.3 195.9,630.3 197.2,632.3 191.0,633.5 186.0,632.8"/>
<polygon fill="#c4c4c4" points="173.5,632.8 177.2,632.3 177.2,633.8 173.7,634.0"/>
<polygon fill="#c4c4c4" points="200.9,632.3 204.2,632.3 204.2,633.8 200.9,633.8"/>
<polygon fill="#c4c4c4" points="424.3,551.4 428.3,550.8 431.2,550.2 433.5,549.7 435.8,551.4 436.4,554.3 438.1,556.6 440.5,558.3 441.0,561.2 438.7,562.9 435.8,564.1 434.7,566.4 432.9,564.7 431.8,561.2 431.2,559.5 428.9,557.7 426.0,555.4 424.1,553.1"/>
<polygon fill="#f2f6f9" points="452.3,503.1 455.0,502.2 458.7,503.6 459.7,505.9 456.9,507.3 454.1,506.3"/>
<polygon fill="#f2f6f9" points="462.0,499.4 463.8,499.0 466.1,502.6 466.6,505.0 464.7,504.5 462.9,502.2"/>
<polygon fill="#fea1a0" points="191.6,472.0 200.2,470.3 208.9,471.2 210.6,474.6 205.4,479.8 200.2,483.3 195.0,482.4 196.8,477.2 192.4,475.5"/>
<polygon fill="#fea1a0" points="208.9,492.0 215.8,488.5 222.8,483.3 226.2,480.7 224.5,486.8 219.3,492.0 214.1,495.4 209.8,495.4"/>
<polygon fill="#fea1a0" points="193.3,460.8 200.2,459.9 202.0,461.7 195.9,462.5"/>
<polygon fill="#fea1a0" points="212.4,458.2 217.6,457.3 219.3,459.9 214.1,460.4"/>
<polygon fill="#fea1a0" points="221.0,464.3 227.9,463.4 226.2,467.7 221.9,467.4"/>
<polygon fill="#fea1a0" points="236.6,490.2 243.5,488.5 250.5,492.0 248.7,498.0 240.1,498.9 236.6,495.4"/>
<polygon fill="#c4c4c4" points="450.7,541.5 452.9,542.5 454.5,544.1 455.7,546.1 456.2,547.8 455.6,548.8 454.3,547.5 452.9,545.9 451.7,543.9"/>
<polyline fill="none" stroke="#fff" stroke-width="0.65" stroke-opacity="0.85" stroke-linejoin="round" points="379.1,581.8 380.1,589.6 371.2,593.6 361.4,599.4 359.4,604.4"/>
<polyline fill="none" stroke="#fff" stroke-width="0.65" stroke-opacity="0.85" stroke-linejoin="round" points="359.4,606.3 350.6,606.7 349.6,616.1 346.7,623.0 338.8,624.0"/>
<polyline fill="none" stroke="#fff" stroke-width="0.65" stroke-opacity="0.85" stroke-linejoin="round" points="359.4,604.4 366.3,611.2 392.8,630.9"/>
<polyline fill="none" stroke="#fff" stroke-width="0.65" stroke-opacity="0.85" stroke-linejoin="round" points="366.3,611.2 367.3,642.6 350.6,643.0 348.6,638.7 338.8,637.7"/>
<polyline fill="none" stroke="#fff" stroke-width="0.65" stroke-opacity="0.85" stroke-linejoin="round" points="392.8,630.9 397.7,626.9 414.4,617.1 409.5,610.2 408.5,595.5 411.5,588.6"/>
<polyline fill="none" stroke="#fff" stroke-width="0.65" stroke-opacity="0.85" stroke-linejoin="round" points="403.6,581.8 405.6,589.6 408.5,595.5"/>
<polyline fill="none" stroke="#fff" stroke-width="0.65" stroke-opacity="0.85" stroke-linejoin="round" points="414.4,617.1 422.3,619.1 445.8,627.9 448.8,627.9 448.8,622.0"/>
<polyline fill="none" stroke="#fff" stroke-width="0.65" stroke-opacity="0.85" stroke-linejoin="round" points="447.8,591.6 448.8,622.0 476.3,621.4"/>
<polyline fill="none" stroke="#fff" stroke-width="0.65" stroke-opacity="0.85" stroke-linejoin="round" points="422.3,619.1 424.2,632.8 421.3,646.6 418.3,648.5"/>
<polyline fill="none" stroke="#fff" stroke-width="0.65" stroke-opacity="0.85" stroke-linejoin="round" points="394.8,648.5 400.7,647.5 408.5,649.5 418.3,648.5"/>
<polyline fill="none" stroke="#fff" stroke-width="0.65" stroke-opacity="0.85" stroke-linejoin="round" points="392.8,630.9 392.8,642.6 383.0,645.6 385.9,650.5 388.9,652.4 394.8,648.5"/>
<polyline fill="none" stroke="#fff" stroke-width="0.65" stroke-opacity="0.85" stroke-linejoin="round" points="445.8,627.9 445.8,640.7 442.9,648.5 444.8,656.4"/>
<polyline fill="none" stroke="#fff" stroke-width="0.65" stroke-opacity="0.85" stroke-linejoin="round" points="424.2,666.2 432.1,663.2 439.9,659.3 444.8,656.4"/>
<polyline fill="none" stroke="#fff" stroke-width="0.65" stroke-opacity="0.85" stroke-linejoin="round" points="418.3,648.5 422.3,654.4 420.3,662.3 424.2,666.2"/>
<polyline fill="none" stroke="#fff" stroke-width="0.65" stroke-opacity="0.85" stroke-linejoin="round" points="444.8,656.4 447.8,660.3 457.6,659.3 467.4,656.4 471.3,652.4 474.3,660.3 477.2,656.4 481.2,648.5 483.1,638.7 489.0,644.6 496.9,652.4"/>
<polyline fill="none" stroke="#fff" stroke-width="0.65" stroke-opacity="0.85" stroke-linejoin="round" points="424.2,666.2 422.3,672.1 424.2,678.0 434.0,676.0 441.9,674.0 451.7,675.0 459.6,676.0 467.4,678.0 475.3,677.0"/>
<polyline fill="none" stroke="#fff" stroke-width="0.65" stroke-opacity="0.85" stroke-linejoin="round" points="447.8,660.3 455.6,672.1 459.6,676.0"/>
<polyline fill="none" stroke="#fff" stroke-width="0.65" stroke-opacity="0.85" stroke-linejoin="round" points="477.2,656.4 474.3,664.2 479.2,672.1 475.3,677.0"/>
<polyline fill="none" stroke="#fff" stroke-width="0.65" stroke-opacity="0.85" stroke-linejoin="round" points="479.2,672.1 487.0,679.0 494.9,677.0 500.0,674.0"/>
<polyline fill="none" stroke="#fff" stroke-width="0.65" stroke-opacity="0.85" stroke-linejoin="round" points="418.3,648.5 416.4,660.3 411.5,668.2 406.6,670.1 405.6,676.0"/>
<polyline fill="none" stroke="#fff" stroke-width="0.65" stroke-opacity="0.85" stroke-linejoin="round" points="408.5,682.9 416.4,682.9 424.2,683.9 424.2,678.0"/>
<polyline fill="none" stroke="#fff" stroke-width="0.65" stroke-opacity="0.85" stroke-linejoin="round" points="408.5,682.9 408.5,687.8 416.4,687.8 416.4,682.9"/>
<polyline fill="none" stroke="#fff" stroke-width="0.65" stroke-opacity="0.85" stroke-linejoin="round" points="424.2,683.9 428.2,687.8 431.1,679.9 434.0,676.0"/>
<polyline fill="none" stroke="#fff" stroke-width="0.65" stroke-opacity="0.85" stroke-linejoin="round" points="338.8,637.7 344.7,638.7 349.6,643.0"/>
<polyline fill="none" stroke="#fff" stroke-width="0.65" stroke-opacity="0.85" stroke-linejoin="round" points="337.9,648.5 344.7,649.5 349.6,650.5 349.6,656.4 346.7,659.3"/>
<polyline fill="none" stroke="#fff" stroke-width="0.65" stroke-opacity="0.85" stroke-linejoin="round" points="350.6,643.0 350.6,650.5 355.5,652.4 359.4,654.4 360.4,659.3 367.3,658.3 369.3,651.5 375.2,646.6 383.0,645.6"/>
<polyline fill="none" stroke="#fff" stroke-width="0.65" stroke-opacity="0.85" stroke-linejoin="round" points="367.3,658.3 374.2,657.4 383.0,656.4 385.9,650.5"/>
<polyline fill="none" stroke="#fff" stroke-width="0.65" stroke-opacity="0.85" stroke-linejoin="round" points="374.2,657.4 374.2,672.1"/>
<polyline fill="none" stroke="#fff" stroke-width="0.65" stroke-opacity="0.85" stroke-linejoin="round" points="383.0,656.4 384.0,670.1"/>
<polyline fill="none" stroke="#fff" stroke-width="0.65" stroke-opacity="0.85" stroke-linejoin="round" points="386.9,654.4 386.9,669.1"/>
<polyline fill="none" stroke="#fff" stroke-width="0.65" stroke-opacity="0.85" stroke-linejoin="round" points="388.9,652.4 389.9,668.2"/>
<polyline fill="none" stroke="#fff" stroke-width="0.65" stroke-opacity="0.85" stroke-linejoin="round" points="349.6,656.4 354.5,664.2 359.4,672.1"/>
<polyline fill="none" stroke="#fff" stroke-width="0.65" stroke-opacity="0.85" stroke-linejoin="round" points="360.4,659.3 360.4,668.2 359.4,672.1"/>
<polyline fill="none" stroke="#fff" stroke-width="0.65" stroke-opacity="0.85" stroke-linejoin="round" points="467.4,678.0 465.5,687.8 469.4,689.7"/>
<polyline fill="none" stroke="#fff" stroke-width="0.65" stroke-opacity="0.85" stroke-linejoin="round" points="475.3,677.0 475.3,687.8"/>
<polyline fill="none" stroke="#fff" stroke-width="0.65" stroke-opacity="0.85" stroke-linejoin="round" points="409.4,684.0 414.2,684.0 414.2,687.3 419.9,687.3 420.7,696.2 415.9,697.0 414.2,701.0 416.7,704.2"/>
<polyline fill="none" stroke="#fff" stroke-width="0.65" stroke-opacity="0.85" stroke-linejoin="round" points="432.8,680.0 429.6,689.7 426.4,697.8 422.3,702.6 416.7,705.1"/>
<polyline fill="none" stroke="#fff" stroke-width="0.65" stroke-opacity="0.85" stroke-linejoin="round" points="416.7,708.8 427.2,708.8 429.6,713.1 436.1,712.3 441.7,711.5 442.5,723.6 446.6,724.5"/>
<polyline fill="none" stroke="#fff" stroke-width="0.65" stroke-opacity="0.85" stroke-linejoin="round" points="446.6,724.5 446.6,729.3 441.7,730.1 442.5,743.0 444.2,745.5"/>
<polyline fill="none" stroke="#fff" stroke-width="0.65" stroke-opacity="0.85" stroke-linejoin="round" points="415.1,742.2 427.2,743.0 438.5,745.5 444.2,745.5 449.8,744.7"/>
<polyline fill="none" stroke="#fff" stroke-width="0.65" stroke-opacity="0.85" stroke-linejoin="round" points="446.6,724.5 454.7,726.1 461.1,728.5 461.9,731.7 463.6,728.5 460.3,725.3 460.3,718.8 463.6,716.4 469.2,717.2 474.1,719.6"/>
<polyline fill="none" stroke="#fff" stroke-width="0.65" stroke-opacity="0.85" stroke-linejoin="round" points="466.0,680.0 463.6,688.1 462.7,694.5 461.9,704.2 464.4,712.3 466.8,716.4"/>
<polyline fill="none" stroke="#fff" stroke-width="0.65" stroke-opacity="0.85" stroke-linejoin="round" points="475.7,693.7 482.1,698.6 488.6,704.2"/>
<polyline fill="none" stroke="#fff" stroke-width="0.65" stroke-opacity="0.85" stroke-linejoin="round" points="476.5,726.1 483.8,724.5 491.0,722.8"/>
<polyline fill="none" stroke="#fff" stroke-width="0.65" stroke-opacity="0.85" stroke-linejoin="round" points="461.1,696.2 466.0,694.5 469.2,696.2"/>
<polyline fill="none" stroke="#fff" stroke-width="0.65" stroke-opacity="0.85" stroke-linejoin="round" points="473.3,720.4 474.1,728.5 476.5,735.0 478.1,741.4 476.5,742.2 474.9,735.0 472.4,728.5 473.3,720.4"/>
<polyline fill="none" stroke="#fff" stroke-width="0.65" stroke-opacity="0.85" stroke-linejoin="round" points="449.8,744.7 456.3,742.2 462.7,737.4 466.8,735.0 472.4,734.2 474.1,728.5"/>
<polyline fill="none" stroke="#fff" stroke-width="0.65" stroke-opacity="0.85" stroke-linejoin="round" points="449.8,744.7 453.9,751.1 458.7,757.6 466.0,759.2 470.0,752.7 470.8,744.7 469.2,739.8 462.7,737.4"/>
<polyline fill="none" stroke="#fff" stroke-width="0.65" stroke-opacity="0.85" stroke-linejoin="round" points="438.5,745.5 437.7,757.6 436.1,767.3 435.3,777.0 432.8,778.6 428.0,777.0"/>
<polyline fill="none" stroke="#fff" stroke-width="0.65" stroke-opacity="0.85" stroke-linejoin="round" points="436.1,767.3 440.1,773.0 445.0,768.1 450.6,768.1 454.7,762.4 458.7,757.6"/>
<polyline fill="none" stroke="#fff" stroke-width="0.65" stroke-opacity="0.85" stroke-linejoin="round" points="466.0,759.2 467.6,765.7 468.4,770.5 466.0,773.8"/>
<polyline fill="none" stroke="#fff" stroke-width="0.65" stroke-opacity="0.85" stroke-linejoin="round" points="453.9,781.0 457.1,777.8 460.3,779.4 458.7,783.5 455.5,784.8 453.9,781.0"/>
<polyline fill="none" stroke="#fff" stroke-width="0.65" stroke-opacity="0.85" stroke-linejoin="round" points="494.3,680.0 494.3,692.9"/>
<polyline fill="none" stroke="#fff" stroke-width="0.65" stroke-opacity="0.85" stroke-linejoin="round" points="188.1,653.7 184.6,660.6 186.4,666.7 192.4,670.1 196.8,671.8 198.5,677.0 197.6,682.2"/>
<polyline fill="none" stroke="#fff" stroke-width="0.65" stroke-opacity="0.85" stroke-linejoin="round" points="197.6,682.2 200.2,686.6 205.4,685.7 208.0,679.6 214.1,677.0 217.6,675.3 216.7,669.3 219.3,665.8"/>
<polyline fill="none" stroke="#fff" stroke-width="0.65" stroke-opacity="0.85" stroke-linejoin="round" points="217.6,675.3 219.3,681.4 221.0,685.7 226.2,684.0 234.0,682.2 240.1,678.8"/>
<polyline fill="none" stroke="#fff" stroke-width="0.65" stroke-opacity="0.85" stroke-linejoin="round" points="224.5,673.6 225.4,679.6 226.2,684.0"/>
<polyline fill="none" stroke="#fff" stroke-width="0.65" stroke-opacity="0.85" stroke-linejoin="round" points="234.0,672.7 234.0,682.2"/>
<polyline fill="none" stroke="#fff" stroke-width="0.65" stroke-opacity="0.85" stroke-linejoin="round" points="197.6,682.2 192.4,684.8 191.6,691.8 190.7,700.4 189.8,703.0"/>
<polyline fill="none" stroke="#fff" stroke-width="0.65" stroke-opacity="0.85" stroke-linejoin="round" points="167.3,686.6 176.0,690.9 176.8,694.4 170.8,700.4 164.7,704.8"/>
<polyline fill="none" stroke="#fff" stroke-width="0.65" stroke-opacity="0.85" stroke-linejoin="round" points="176.0,690.9 182.9,696.1 190.7,697.8"/>
<polyline fill="none" stroke="#fff" stroke-width="0.65" stroke-opacity="0.85" stroke-linejoin="round" points="189.8,703.0 183.8,705.6 182.0,711.7 185.5,718.6 190.7,721.2 192.4,723.8 195.9,727.3 196.4,735.1 194.7,739.4 195.0,744.6 194.2,747.2"/>
<polyline fill="none" stroke="#fff" stroke-width="0.65" stroke-opacity="0.85" stroke-linejoin="round" points="192.4,723.8 200.2,721.2 204.6,721.2 206.3,726.4 214.1,730.7 220.2,735.1 221.9,741.1 226.2,744.6 227.1,749.8"/>
<polyline fill="none" stroke="#fff" stroke-width="0.65" stroke-opacity="0.85" stroke-linejoin="round" points="195.0,744.6 196.8,752.4 200.2,759.3 204.6,758.5 209.8,757.6 212.4,759.3 215.8,755.9 216.7,751.5 221.9,749.8 227.1,749.8"/>
<polyline fill="none" stroke="#fff" stroke-width="0.65" stroke-opacity="0.85" stroke-linejoin="round" points="227.1,749.8 227.9,755.9 233.1,759.3 237.5,762.8 238.3,769.7 234.9,774.0"/>
<polyline fill="none" stroke="#fff" stroke-width="0.65" stroke-opacity="0.85" stroke-linejoin="round" points="215.8,755.9 218.4,761.1 222.8,764.5 228.8,768.9 229.7,773.2"/>
<polyline fill="none" stroke="#fff" stroke-width="0.65" stroke-opacity="0.85" stroke-linejoin="round" points="200.2,759.3 201.1,766.3 200.2,775.1"/>
<polyline fill="none" stroke="#fff" stroke-width="0.65" stroke-opacity="0.85" stroke-linejoin="round" points="202.9,760.0 200.8,766.9 199.4,775.2 200.8,783.6 202.9,791.9 203.6,801.6 204.9,811.3 207.0,819.6 209.8,827.9 211.2,836.2 212.6,843.1 216.0,848.0 220.2,850.8"/>
<polyline fill="none" stroke="#fff" stroke-width="0.65" stroke-opacity="0.85" stroke-linejoin="round" points="217.4,760.0 221.6,764.2 227.8,767.6 229.2,773.2 235.4,773.9 238.9,771.1 238.2,765.5 235.4,760.0"/>
<polyline fill="none" stroke="#fff" stroke-width="0.65" stroke-opacity="0.85" stroke-linejoin="round" points="238.9,771.1 241.0,773.9 235.4,779.4 233.3,783.6 232.7,791.9 234.7,796.7"/>
<polyline fill="none" stroke="#fff" stroke-width="0.65" stroke-opacity="0.85" stroke-linejoin="round" points="233.3,783.6 239.6,786.3 245.1,790.5"/>
<polygon fill="#f2f6f9" points="187.2,658.0 189.0,657.1 189.1,661.5 187.2,661.5"/>
<polyline fill="none" stroke="#fff" stroke-width="0.65" stroke-opacity="0.85" stroke-linejoin="round" points="501.8,546.8 498.7,543.6 497.7,537.4 500.8,533.3 507.0,531.2 515.3,532.2 524.7,533.3 528.8,531.2 526.8,524.9 534.0,522.9 542.4,520.4 550.7,522.9 561.1,524.5 567.3,529.1 575.6,533.3 583.9,534.3 593.3,538.5"/>
<polyline fill="none" stroke="#fff" stroke-width="0.65" stroke-opacity="0.85" stroke-linejoin="round" points="593.3,538.5 589.1,544.7 586.0,547.8 585.0,554.0 581.8,557.2"/>
<polyline fill="none" stroke="#fff" stroke-width="0.65" stroke-opacity="0.85" stroke-linejoin="round" points="513.3,549.9 522.6,550.9 523.6,558.2 526.8,559.2 528.2,555.7 532.0,554.5 538.2,556.1 544.4,555.1 550.7,560.3 555.9,563.4 560.0,560.3 567.3,557.2 575.6,557.2 581.8,557.2"/>
<polyline fill="none" stroke="#fff" stroke-width="0.65" stroke-opacity="0.85" stroke-linejoin="round" points="522.6,550.9 524.7,561.3 532.0,559.2 539.2,562.4 546.5,569.6 552.7,572.7"/>
<polyline fill="none" stroke="#fff" stroke-width="0.65" stroke-opacity="0.85" stroke-linejoin="round" points="515.3,570.7 522.6,572.7 530.9,571.7 538.2,575.9 542.4,580.0 548.6,575.9 552.7,572.7 557.9,571.7"/>
<polyline fill="none" stroke="#fff" stroke-width="0.65" stroke-opacity="0.85" stroke-linejoin="round" points="560.0,560.3 563.1,564.4 571.5,563.4 581.8,557.2 577.7,562.4 571.5,566.5 567.3,568.6 571.5,571.7 577.7,571.7"/>
<polyline fill="none" stroke="#fff" stroke-width="0.65" stroke-opacity="0.85" stroke-linejoin="round" points="555.9,563.4 556.9,569.6 562.1,571.7 567.3,568.6"/>
<polyline fill="none" stroke="#fff" stroke-width="0.65" stroke-opacity="0.85" stroke-linejoin="round" points="557.9,571.7 565.2,573.8 571.5,571.7 575.6,573.8 569.4,576.9 565.2,582.1 565.2,589.4 559.0,593.5 553.8,597.7 544.4,598.7 542.4,591.5 541.3,583.1 542.4,580.0"/>
<polyline fill="none" stroke="#fff" stroke-width="0.65" stroke-opacity="0.85" stroke-linejoin="round" points="544.4,598.7 549.6,602.9 547.6,610.2 548.6,616.4"/>
<polyline fill="none" stroke="#fff" stroke-width="0.65" stroke-opacity="0.85" stroke-linejoin="round" points="575.6,573.8 579.8,580.0 583.9,583.1 578.7,587.3 575.6,593.5 576.7,601.8 571.5,606.0 567.3,612.2 571.5,616.4"/>
<polyline fill="none" stroke="#fff" stroke-width="0.65" stroke-opacity="0.85" stroke-linejoin="round" points="579.8,580.0 586.0,587.3 593.3,595.6 602.6,599.8 613.0,603.9 617.2,606.0 625.5,603.9 629.7,601.8 634.9,599.8 640.0,601.8"/>
<polyline fill="none" stroke="#fff" stroke-width="0.65" stroke-opacity="0.85" stroke-linejoin="round" points="593.3,596.7 604.7,602.9 615.1,607.0"/>
<polyline fill="none" stroke="#fff" stroke-width="0.65" stroke-opacity="0.85" stroke-linejoin="round" points="617.2,606.0 618.2,612.2 623.4,613.3 625.5,619.9"/>
<polyline fill="none" stroke="#fff" stroke-width="0.65" stroke-opacity="0.85" stroke-linejoin="round" points="629.7,601.8 633.8,608.1 632.8,615.4 635.9,619.9"/>
<polyline fill="none" stroke="#fff" stroke-width="0.65" stroke-opacity="0.85" stroke-linejoin="round" points="593.3,538.5 600.6,535.8"/>
<polyline fill="none" stroke="#fff" stroke-width="0.65" stroke-opacity="0.85" stroke-linejoin="round" points="593.3,538.5 600.6,541.6 604.7,544.7"/>
<polyline fill="none" stroke="#fff" stroke-width="0.65" stroke-opacity="0.85" stroke-linejoin="round" points="484.2,556.1 490.4,558.2 497.7,560.3 502.9,562.4"/>
<polyline fill="none" stroke="#fff" stroke-width="0.65" stroke-opacity="0.85" stroke-linejoin="round" points="490.4,558.2 492.5,564.4 498.7,566.5 504.9,569.6"/>
<polyline fill="none" stroke="#fff" stroke-width="0.65" stroke-opacity="0.85" stroke-linejoin="round" points="492.5,564.4 494.5,570.7 496.6,575.9 500.8,583.1 507.0,589.4 510.1,595.6 512.2,598.7"/>
<polyline fill="none" stroke="#fff" stroke-width="0.65" stroke-opacity="0.85" stroke-linejoin="round" points="480.0,576.9 488.3,573.8 496.6,575.9"/>
<polyline fill="none" stroke="#fff" stroke-width="0.65" stroke-opacity="0.85" stroke-linejoin="round" points="484.2,591.5 490.4,587.3 489.4,580.0"/>
<polyline fill="none" stroke="#fff" stroke-width="0.65" stroke-opacity="0.85" stroke-linejoin="round" points="484.2,591.5 494.5,597.7 502.9,601.8 510.1,599.8"/>
<polyline fill="none" stroke="#fff" stroke-width="0.65" stroke-opacity="0.85" stroke-linejoin="round" points="600.0,534.7 608.3,533.6 615.6,534.7 617.7,530.5 624.9,531.6 633.3,534.7 641.6,537.8 652.0,536.8 660.3,535.7 663.4,538.8"/>
<polyline fill="none" stroke="#fff" stroke-width="0.65" stroke-opacity="0.85" stroke-linejoin="round" points="600.0,543.0 606.2,550.3 616.6,554.4 627.0,558.6 637.4,560.7 645.7,561.7 654.0,556.5 660.3,552.4 668.6,548.2 674.8,546.1 671.7,543.0 664.4,542.0 663.4,538.8"/>
<polyline fill="none" stroke="#fff" stroke-width="0.65" stroke-opacity="0.85" stroke-linejoin="round" points="663.4,538.8 666.5,534.7 665.5,528.5 670.7,526.4 676.9,528.5 684.2,533.6 691.5,538.8 699.8,542.0 706.0,543.0 708.1,547.2 707.0,554.4 708.1,558.6 705.0,561.7 701.8,564.8 698.7,570.0 695.6,571.1"/>
<polyline fill="none" stroke="#fff" stroke-width="0.65" stroke-opacity="0.85" stroke-linejoin="round" points="705.0,572.1 709.1,574.2"/>
<polyline fill="none" stroke="#fff" stroke-width="0.65" stroke-opacity="0.85" stroke-linejoin="round" points="643.6,636.6 645.0,631.9 648.5,629.1 651.4,626.2 653.1,623.9"/>
<polyline fill="none" stroke="#fff" stroke-width="0.65" stroke-opacity="0.85" stroke-linejoin="round" points="645.0,631.9 646.2,637.7 647.9,643.5 649.6,649.3 650.8,653.9 651.4,658.5"/>
<polyline fill="none" stroke="#fff" stroke-width="0.65" stroke-opacity="0.85" stroke-linejoin="round" points="651.4,626.2 654.8,625.0 656.6,629.6 660.0,633.1 663.5,634.2 667.0,638.9 668.1,643.5 667.0,645.8 664.6,646.4"/>
<polyline fill="none" stroke="#fff" stroke-width="0.65" stroke-opacity="0.85" stroke-linejoin="round" points="654.8,625.0 657.7,622.1 661.8,621.0 664.6,623.9 667.0,627.3 664.6,630.8 668.1,635.4 671.6,640.0 672.7,644.6 671.0,647.0"/>
<polyline fill="none" stroke="#fff" stroke-width="0.65" stroke-opacity="0.85" stroke-linejoin="round" points="660.0,648.1 662.3,646.4 667.0,645.8 671.0,647.0 672.1,649.8 669.8,653.3 668.1,656.2"/>
<polyline fill="none" stroke="#fff" stroke-width="0.65" stroke-opacity="0.85" stroke-linejoin="round" points="660.0,648.1 660.6,652.7 662.9,655.6"/>
<polyline fill="none" stroke="#fff" stroke-width="0.65" stroke-opacity="0.85" stroke-linejoin="round" points="675.6,625.6 671.6,625.0 668.1,621.5 664.6,619.8 661.8,621.0"/>
<polyline fill="none" stroke="#fff" stroke-width="0.65" stroke-opacity="0.85" stroke-linejoin="round" points="657.7,622.1 654.8,619.8 651.9,616.9 647.3,615.8 643.9,612.3 641.5,610.0"/>
<polyline fill="none" stroke="#fff" stroke-width="0.65" stroke-opacity="0.85" stroke-linejoin="round" points="656.0,667.7 658.9,670.0"/>
<polyline fill="none" stroke="#fff" stroke-width="0.65" stroke-opacity="0.85" stroke-linejoin="round" points="679.7,686.2 684.3,687.4 688.9,686.8 692.9,685.1 695.8,680.4 699.3,677.0 702.2,675.8"/>
<polyline fill="none" stroke="#fff" stroke-width="0.65" stroke-opacity="0.85" stroke-linejoin="round" points="616.3,608.0 617.7,612.2 619.8,616.3 619.1,621.2"/>
<polyline fill="none" stroke="#fff" stroke-width="0.65" stroke-opacity="0.85" stroke-linejoin="round" points="626.3,618.4 627.1,613.6 623.9,610.8 624.6,608.0 619.8,607.3 616.3,608.0"/>
<polyline fill="none" stroke="#fff" stroke-width="0.65" stroke-opacity="0.85" stroke-linejoin="round" points="626.3,618.4 630.2,614.9 633.0,609.4 635.7,603.9 638.5,601.8 642.7,605.2 644.7,610.8 648.2,615.6 651.0,619.8 650.3,623.3"/>
<polyline fill="none" stroke="#fff" stroke-width="0.65" stroke-opacity="0.85" stroke-linejoin="round" points="592.8,595.5 598.3,599.7 605.2,603.2 612.2,605.2 617.0,604.5 616.3,602.5 609.4,600.4 602.5,596.9 595.5,593.5 592.8,595.5"/>
<polyline fill="none" stroke="#fff" stroke-width="0.65" stroke-opacity="0.85" stroke-linejoin="round" points="617.7,603.9 623.3,603.2 624.6,605.2 619.1,605.5 617.7,603.9"/>
<polyline fill="none" stroke="#fff" stroke-width="0.65" stroke-opacity="0.85" stroke-linejoin="round" points="499.7,647.7 508.6,641.3 523.8,636.2 528.9,626.1 536.5,631.1"/>
<polyline fill="none" stroke="#fff" stroke-width="0.65" stroke-opacity="0.85" stroke-linejoin="round" points="528.9,626.1 527.7,617.2 525.1,617.2"/>
<polyline fill="none" stroke="#fff" stroke-width="0.65" stroke-opacity="0.85" stroke-linejoin="round" points="513.7,596.8 503.5,598.1 492.1,590.5 483.2,585.4 476.8,587.9"/>
<polyline fill="none" stroke="#fff" stroke-width="0.65" stroke-opacity="0.85" stroke-linejoin="round" points="483.2,585.4 480.7,593.0 475.6,598.1"/>
<polyline fill="none" stroke="#fff" stroke-width="0.65" stroke-opacity="0.85" stroke-linejoin="round" points="364.8,556.6 366.5,558.9 368.9,559.5 368.3,562.9 367.1,565.8 367.1,569.3 366.0,572.7 366.5,575.6"/>
<polyline fill="none" stroke="#fff" stroke-width="0.65" stroke-opacity="0.85" stroke-linejoin="round" points="382.1,558.0 386.2,558.9 390.2,559.5 392.0,560.0"/>
<polyline fill="none" stroke="#fff" stroke-width="0.65" stroke-opacity="0.85" stroke-linejoin="round" points="389.6,534.1 392.5,535.2 396.0,537.0 399.5,538.7 403.5,539.8 404.7,541.6 402.9,544.5 400.6,546.8 402.3,548.5 401.8,550.8"/>
<polyline fill="none" stroke="#fff" stroke-width="0.65" stroke-opacity="0.85" stroke-linejoin="round" points="393.1,533.5 394.8,534.6 397.1,534.6 399.5,535.2 400.0,538.7"/>
<polyline fill="none" stroke="#fff" stroke-width="0.65" stroke-opacity="0.85" stroke-linejoin="round" points="401.2,526.6 400.6,531.2 399.5,535.2"/>
<polyline fill="none" stroke="#fff" stroke-width="0.65" stroke-opacity="0.85" stroke-linejoin="round" points="420.2,524.8 420.8,528.9 421.4,533.5 417.9,534.6 415.6,535.8 417.4,539.3 419.7,540.4 417.9,543.3 413.9,543.9 410.4,544.5 408.1,543.9 404.7,544.5 402.9,544.5"/>
<polyline fill="none" stroke="#fff" stroke-width="0.65" stroke-opacity="0.85" stroke-linejoin="round" points="421.4,533.5 424.3,534.6 427.2,535.8 430.1,537.5 427.2,539.3 424.3,539.8 419.7,540.4"/>
<polyline fill="none" stroke="#fff" stroke-width="0.65" stroke-opacity="0.85" stroke-linejoin="round" points="430.1,537.5 433.5,537.0 438.1,537.5 441.0,537.0"/>
<polyline fill="none" stroke="#fff" stroke-width="0.65" stroke-opacity="0.85" stroke-linejoin="round" points="424.3,539.8 425.4,542.1 428.9,541.6 433.5,540.4 438.1,539.8 439.9,541.0"/>
<polyline fill="none" stroke="#fff" stroke-width="0.65" stroke-opacity="0.85" stroke-linejoin="round" points="425.4,542.1 424.3,544.5 424.9,546.2 421.4,547.3 417.9,547.3 413.9,546.2 410.4,544.5"/>
<polyline fill="none" stroke="#fff" stroke-width="0.65" stroke-opacity="0.85" stroke-linejoin="round" points="424.9,546.2 427.7,548.5 431.2,549.7 434.7,549.1 438.1,546.2 439.9,541.0"/>
<polyline fill="none" stroke="#fff" stroke-width="0.65" stroke-opacity="0.85" stroke-linejoin="round" points="417.9,547.3 420.2,549.7 423.1,549.1 424.9,546.2"/>
<polyline fill="none" stroke="#fff" stroke-width="0.65" stroke-opacity="0.85" stroke-linejoin="round" points="400.6,546.8 403.5,548.5 406.4,548.5 408.7,547.3 410.4,544.5"/>
<polyline fill="none" stroke="#fff" stroke-width="0.65" stroke-opacity="0.85" stroke-linejoin="round" points="408.7,547.3 412.7,546.8 417.9,547.3"/>
<polyline fill="none" stroke="#fff" stroke-width="0.65" stroke-opacity="0.85" stroke-linejoin="round" points="434.7,549.1 436.4,552.0 436.4,554.3 440.5,555.4 446.2,554.8 450.8,553.7 454.3,554.3"/>
<polyline fill="none" stroke="#fff" stroke-width="0.65" stroke-opacity="0.85" stroke-linejoin="round" points="436.4,554.3 438.1,556.6 440.5,558.3 441.0,561.2"/>
<polyline fill="none" stroke="#fff" stroke-width="0.65" stroke-opacity="0.85" stroke-linejoin="round" points="438.7,562.9 442.8,562.9 447.4,562.1 450.8,561.2 452.6,562.4"/>
<polyline fill="none" stroke="#fff" stroke-width="0.65" stroke-opacity="0.85" stroke-linejoin="round" points="431.2,550.2 431.8,554.3 432.9,557.7 431.2,559.5"/>
<polyline fill="none" stroke="#fff" stroke-width="0.65" stroke-opacity="0.85" stroke-linejoin="round" points="432.9,557.7 435.8,560.0 435.8,564.1"/>
<polyline fill="none" stroke="#fff" stroke-width="0.65" stroke-opacity="0.85" stroke-linejoin="round" points="432.9,560.0 434.7,562.4"/>
<polyline fill="none" stroke="#fff" stroke-width="0.65" stroke-opacity="0.85" stroke-linejoin="round" points="411.2,507.7 413.0,503.6 413.9,499.4 416.2,494.8 419.0,491.6 422.7,487.9 426.4,485.6 430.6,483.2 435.6,481.9 437.0,485.1 437.7,488.8 438.0,491.1"/>
<polyline fill="none" stroke="#fff" stroke-width="0.65" stroke-opacity="0.85" stroke-linejoin="round" points="435.6,481.9 438.9,480.9 442.1,480.5 444.4,481.9 446.7,481.4 447.7,480.5"/>
<polyline fill="none" stroke="#fff" stroke-width="0.65" stroke-opacity="0.85" stroke-linejoin="round" points="440.6,515.1 442.7,513.6 445.4,513.2 448.2,513.9 451.0,514.9"/>
<polyline fill="none" stroke="#fff" stroke-width="0.65" stroke-opacity="0.85" stroke-linejoin="round" points="435.0,517.7 438.5,517.4 442.7,518.1 446.8,518.8 448.9,519.1"/>
<polyline fill="none" stroke="#fff" stroke-width="0.65" stroke-opacity="0.85" stroke-linejoin="round" points="111.1,481.2 83.6,506.1 86.9,509.9 89.9,518.6 91.9,528.6 92.9,537.3 93.6,539.3 159.7,539.8 162.2,542.3"/>
<polyline fill="none" stroke="#fff" stroke-width="0.65" stroke-opacity="0.85" stroke-linejoin="round" points="150.0,538.5 163.3,538.5 164.8,544.0"/>
<polyline fill="none" stroke="#fff" stroke-width="0.65" stroke-opacity="0.85" stroke-linejoin="round" points="198.1,553.6 203.2,551.9 208.3,551.0 212.7,549.8 215.3,547.2 217.8,544.1 220.3,541.5"/>
<polyline fill="none" stroke="#fff" stroke-width="0.65" stroke-opacity="0.85" stroke-linejoin="round" points="217.8,544.1 219.7,545.3 220.3,548.5 221.0,551.0"/>
<polyline fill="none" stroke="#fff" stroke-width="0.65" stroke-opacity="0.85" stroke-linejoin="round" points="127.3,638.5 131.1,634.8 134.8,636.0 134.8,631.0 139.8,631.0 142.3,633.5"/>
<polyline fill="none" stroke="#fff" stroke-width="0.65" stroke-opacity="0.85" stroke-linejoin="round" points="134.8,636.0 139.8,638.5 137.3,642.3"/>
<polyline fill="none" stroke="#fff" stroke-width="0.65" stroke-opacity="0.85" stroke-linejoin="round" points="146.1,641.0 156.0,638.5"/>
<polyline fill="none" stroke="#fff" stroke-width="0.65" stroke-opacity="0.85" stroke-linejoin="round" points="149.8,649.8 157.3,651.0"/>
<polyline fill="none" stroke="#fff" stroke-width="0.65" stroke-opacity="0.85" stroke-linejoin="round" points="156.0,657.2 158.5,659.7"/>
<polyline fill="none" stroke="#fff" stroke-width="0.65" stroke-opacity="0.85" stroke-linejoin="round" points="766.7,697.3 766.2,718.1"/>
<polyline fill="none" stroke="#fff" stroke-width="0.65" stroke-opacity="0.85" stroke-linejoin="round" points="442.0,533.2 441.2,529.6 442.4,526.3 445.2,523.9 448.4,520.7 449.3,519.0 452.5,518.6 455.7,520.7 457.3,523.1 459.8,525.5 461.0,527.9 459.4,530.4"/>
<polyline fill="none" stroke="#fff" stroke-width="0.65" stroke-opacity="0.85" stroke-linejoin="round" points="450.7,541.5 451.7,543.9 452.9,545.9 454.3,547.5 455.6,548.8"/>
<circle cx="184.7" cy="615.2" r="4.3" fill="#fd9a9a"/>
<text x="197.7" y="611.1" font-size="13" fill="#fd9a9a" textLength="69.7" lengthAdjust="spacingAndGlyphs">Багамские</text>
<text x="198.1" y="624.4" font-size="13" fill="#fd9a9a" textLength="56.5" lengthAdjust="spacingAndGlyphs">Острова</text>
<line x1="705.4" y1="615.9" x2="728.8" y2="610.7" stroke="#fd9a9a" stroke-width="0.8"/>
<text x="732.4" y="613.9" font-size="13.4" fill="#fd9a9a" textLength="51.8" lengthAdjust="spacingAndGlyphs">Тайвань</text>
<text x="725.9" y="640.4" font-size="13.4" fill="#ff9908" textLength="82.1" lengthAdjust="spacingAndGlyphs">Микронезия</text>
<circle cx="764" cy="650.1" r="4.2" fill="#ff9908"/>
<line x1="641.3" y1="692.8" x2="664.3" y2="686.7" stroke="#fd9a9a" stroke-width="0.8"/>
<circle cx="665.9" cy="685.9" r="2" fill="#fd9a9a"/>
<text x="572.1" y="699.3" font-size="13.4" fill="#fd9a9a" textLength="63.9" lengthAdjust="spacingAndGlyphs">Сингапур</text>
<text x="474.6" y="551.6" font-size="20" font-weight="bold" fill="#111">*</text>
</svg>

</body>
</html>
